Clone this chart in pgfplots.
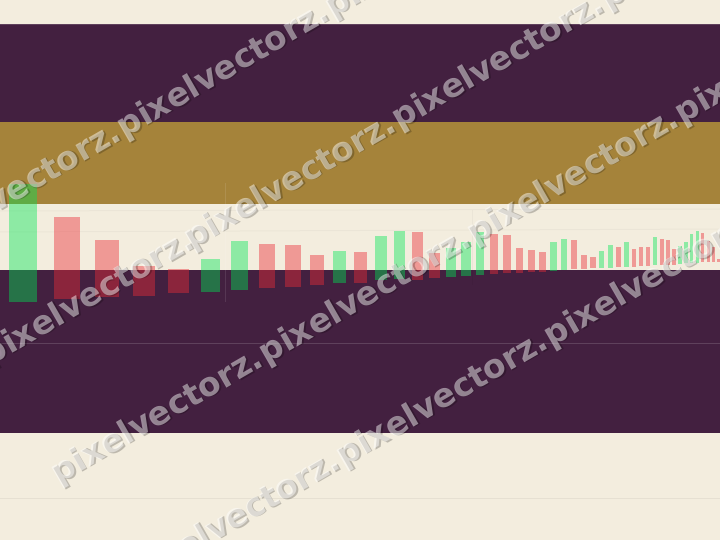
\documentclass[border=0pt]{standalone}
\usepackage{pgfplots}
\pgfplotsset{compat=1.18}
\usepackage{fontspec}
\newfontfamily\wmfont{DejaVu Sans}
\definecolor{cream}{RGB}{243,237,222}
\definecolor{plum}{RGB}{67,32,64}
\definecolor{gold}{RGB}{165,131,58}
\definecolor{upc}{RGB}{0,230,85}
\definecolor{dnc}{RGB}{236,44,55}
\newcommand{\wm}[2]{%
  \node[rotate=30, anchor=west, inner sep=0pt, text=black, text opacity=0.22, xshift=1.3bp, yshift=-1.3bp] at (axis cs:#1,#2) {\wmfont\bfseries\fontsize{33}{33}\selectfont pixelvectorz.};
  \node[rotate=30, anchor=west, inner sep=0pt, text=white, text opacity=0.47] at (axis cs:#1,#2) {\wmfont\bfseries\fontsize{33}{33}\selectfont pixelvectorz.};}
\begin{document}
\begin{tikzpicture}
\begin{axis}[width=720bp, height=540bp, scale only axis, xmin=0, xmax=720, ymin=0, ymax=540,
  y dir=reverse, hide axis, clip=true]
% background bands
\addplot[fill=cream, draw=none] coordinates {(0,0) (720,0) (720,540) (0,540)} -- cycle;
\addplot[fill=plum, draw=none] coordinates {(0,24) (720,24) (720,122) (0,122)} -- cycle;
\addplot[fill=gold, draw=none] coordinates {(0,122) (720,122) (720,204) (0,204)} -- cycle;
\addplot[fill=plum, draw=none] coordinates {(0,270) (720,270) (720,433) (0,433)} -- cycle;
% faint grid lines
\addplot[draw=white, draw opacity=0.15, line width=1bp] coordinates {(0,24.5) (720,24.5)};
\addplot[draw=white, draw opacity=0.15, line width=1bp] coordinates {(0,343) (720,343)};
\addplot[draw=black, draw opacity=0.05, line width=1bp] coordinates {(0,498) (720,498)};
\addplot[draw=black, draw opacity=0.03, line width=1bp] coordinates {(0,211) (720,209)};
\addplot[draw=black, draw opacity=0.03, line width=1bp] coordinates {(0,232) (720,229)};
\addplot[draw=white, draw opacity=0.10, line width=1bp] coordinates {(225,183) (225,302)};
\addplot[draw=black, draw opacity=0.03, line width=1bp] coordinates {(472,210) (472,285)};
% candles: green (up) and red (down)
\addplot[fill=upc, fill opacity=0.42, draw=none] coordinates {(9.3,184) (37,184) (37,302) (9.3,302)} -- cycle;
\addplot[fill=dnc, fill opacity=0.43, draw=none] coordinates {(54,216.7) (80,216.7) (80,299) (54,299)} -- cycle;
\addplot[fill=dnc, fill opacity=0.43, draw=none] coordinates {(95.3,240) (119,240) (119,297) (95.3,297)} -- cycle;
\addplot[fill=dnc, fill opacity=0.43, draw=none] coordinates {(133,265.7) (155,265.7) (155,295.5) (133,295.5)} -- cycle;
\addplot[fill=dnc, fill opacity=0.43, draw=none] coordinates {(168,268.7) (189,268.7) (189,293) (168,293)} -- cycle;
\addplot[fill=upc, fill opacity=0.42, draw=none] coordinates {(201,258.7) (220,258.7) (220,291.7) (201,291.7)} -- cycle;
\addplot[fill=upc, fill opacity=0.42, draw=none] coordinates {(231,240.7) (248.3,240.7) (248.3,290) (231,290)} -- cycle;
\addplot[fill=dnc, fill opacity=0.43, draw=none] coordinates {(259,244) (275,244) (275,287.5) (259,287.5)} -- cycle;
\addplot[fill=dnc, fill opacity=0.43, draw=none] coordinates {(285,245) (300.7,245) (300.7,286.7) (285,286.7)} -- cycle;
\addplot[fill=dnc, fill opacity=0.43, draw=none] coordinates {(310,255) (324.3,255) (324.3,285) (310,285)} -- cycle;
\addplot[fill=upc, fill opacity=0.42, draw=none] coordinates {(333,251) (346.3,251) (346.3,283.3) (333,283.3)} -- cycle;
\addplot[fill=dnc, fill opacity=0.43, draw=none] coordinates {(354.3,251.7) (367,251.7) (367,282.7) (354.3,282.7)} -- cycle;
\addplot[fill=upc, fill opacity=0.42, draw=none] coordinates {(374.7,236) (387,236) (387,280) (374.7,280)} -- cycle;
\addplot[fill=upc, fill opacity=0.42, draw=none] coordinates {(394,230.7) (405.3,230.7) (405.3,279) (394,279)} -- cycle;
\addplot[fill=dnc, fill opacity=0.43, draw=none] coordinates {(412,232) (423,232) (423,279.5) (412,279.5)} -- cycle;
\addplot[fill=dnc, fill opacity=0.43, draw=none] coordinates {(429,253) (439.5,253) (439.5,278.3) (429,278.3)} -- cycle;
\addplot[fill=upc, fill opacity=0.42, draw=none] coordinates {(446,248.3) (456,248.3) (456,277.3) (446,277.3)} -- cycle;
\addplot[fill=upc, fill opacity=0.42, draw=none] coordinates {(461,241.7) (470.5,241.7) (470.5,276.3) (461,276.3)} -- cycle;
\addplot[fill=upc, fill opacity=0.42, draw=none] coordinates {(475.7,231.7) (484.3,231.7) (484.3,275.3) (475.7,275.3)} -- cycle;
\addplot[fill=dnc, fill opacity=0.43, draw=none] coordinates {(489.7,233.7) (497.7,233.7) (497.7,274.3) (489.7,274.3)} -- cycle;
\addplot[fill=dnc, fill opacity=0.43, draw=none] coordinates {(503,235.2) (511,235.2) (511,273.3) (503,273.3)} -- cycle;
\addplot[fill=dnc, fill opacity=0.43, draw=none] coordinates {(516,247.7) (523,247.7) (523,273) (516,273)} -- cycle;
\addplot[fill=dnc, fill opacity=0.43, draw=none] coordinates {(528,250.5) (534.5,250.5) (534.5,272.3) (528,272.3)} -- cycle;
\addplot[fill=dnc, fill opacity=0.43, draw=none] coordinates {(539.3,252) (546,252) (546,271.7) (539.3,271.7)} -- cycle;
\addplot[fill=upc, fill opacity=0.42, draw=none] coordinates {(550.2,242.5) (556.7,242.5) (556.7,270.7) (550.2,270.7)} -- cycle;
\addplot[fill=upc, fill opacity=0.42, draw=none] coordinates {(561,239) (567.3,239) (567.3,270) (561,270)} -- cycle;
\addplot[fill=dnc, fill opacity=0.43, draw=none] coordinates {(571,240) (577,240) (577,269.3) (571,269.3)} -- cycle;
\addplot[fill=dnc, fill opacity=0.43, draw=none] coordinates {(580.7,255) (586.7,255) (586.7,269) (580.7,269)} -- cycle;
\addplot[fill=dnc, fill opacity=0.43, draw=none] coordinates {(590,256.7) (595.7,256.7) (595.7,268.3) (590,268.3)} -- cycle;
\addplot[fill=upc, fill opacity=0.42, draw=none] coordinates {(599,251.5) (604.3,251.5) (604.3,268) (599,268)} -- cycle;
\addplot[fill=upc, fill opacity=0.42, draw=none] coordinates {(608,245.2) (613.3,245.2) (613.3,267.7) (608,267.7)} -- cycle;
\addplot[fill=dnc, fill opacity=0.43, draw=none] coordinates {(616,246.7) (621,246.7) (621,267.2) (616,267.2)} -- cycle;
\addplot[fill=upc, fill opacity=0.42, draw=none] coordinates {(624,242) (629,242) (629,266.7) (624,266.7)} -- cycle;
\addplot[fill=dnc, fill opacity=0.43, draw=none] coordinates {(631.7,249.5) (636.3,249.5) (636.3,266.5) (631.7,266.5)} -- cycle;
\addplot[fill=dnc, fill opacity=0.43, draw=none] coordinates {(639,247.2) (643.3,247.2) (643.3,266) (639,266)} -- cycle;
\addplot[fill=dnc, fill opacity=0.43, draw=none] coordinates {(646,247.3) (650.3,247.3) (650.3,265.7) (646,265.7)} -- cycle;
\addplot[fill=upc, fill opacity=0.42, draw=none] coordinates {(653,237) (657,237) (657,265.3) (653,265.3)} -- cycle;
\addplot[fill=dnc, fill opacity=0.43, draw=none] coordinates {(659.7,239.3) (663.7,239.3) (663.7,265) (659.7,265)} -- cycle;
\addplot[fill=dnc, fill opacity=0.43, draw=none] coordinates {(666,240) (670,240) (670,264.8) (666,264.8)} -- cycle;
\addplot[fill=dnc, fill opacity=0.43, draw=none] coordinates {(672.2,249.3) (676.2,249.3) (676.2,264.5) (672.2,264.5)} -- cycle;
\addplot[fill=upc, fill opacity=0.42, draw=none] coordinates {(678.3,246) (681.8,246) (681.8,264.2) (678.3,264.2)} -- cycle;
\addplot[fill=upc, fill opacity=0.42, draw=none] coordinates {(684.2,242.3) (687.8,242.3) (687.8,263.5) (684.2,263.5)} -- cycle;
\addplot[fill=upc, fill opacity=0.42, draw=none] coordinates {(690,234) (693.3,234) (693.3,263.3) (690,263.3)} -- cycle;
\addplot[fill=upc, fill opacity=0.42, draw=none] coordinates {(695.7,231) (699,231) (699,262.8) (695.7,262.8)} -- cycle;
\addplot[fill=dnc, fill opacity=0.43, draw=none] coordinates {(701.3,233) (704.3,233) (704.3,262.3) (701.3,262.3)} -- cycle;
\addplot[fill=dnc, fill opacity=0.43, draw=none] coordinates {(706.7,241.5) (710,241.5) (710,262.2) (706.7,262.2)} -- cycle;
\addplot[fill=dnc, fill opacity=0.43, draw=none] coordinates {(712,246.7) (715,246.7) (715,261.8) (712,261.8)} -- cycle;
\addplot[fill=dnc, fill opacity=0.43, draw=none] coordinates {(716.7,259) (720,259) (720,261.7) (716.7,261.7)} -- cycle;
% watermark
\wm{-88}{250.8}\wm{120}{130.8}\wm{328}{10.7}
\wm{-15}{358.7}\wm{187}{242.1}\wm{395}{122.1}\wm{603}{2.1}
\wm{54}{476.8}\wm{262}{356.8}\wm{470}{236.8}\wm{678}{116.8}
\wm{131}{579.4}\wm{339}{459.4}\wm{547}{339.4}
\end{axis}
\pgfresetboundingbox
\path[use as bounding box] (current axis.south west) rectangle (current axis.north east);
\end{tikzpicture}
\end{document}
